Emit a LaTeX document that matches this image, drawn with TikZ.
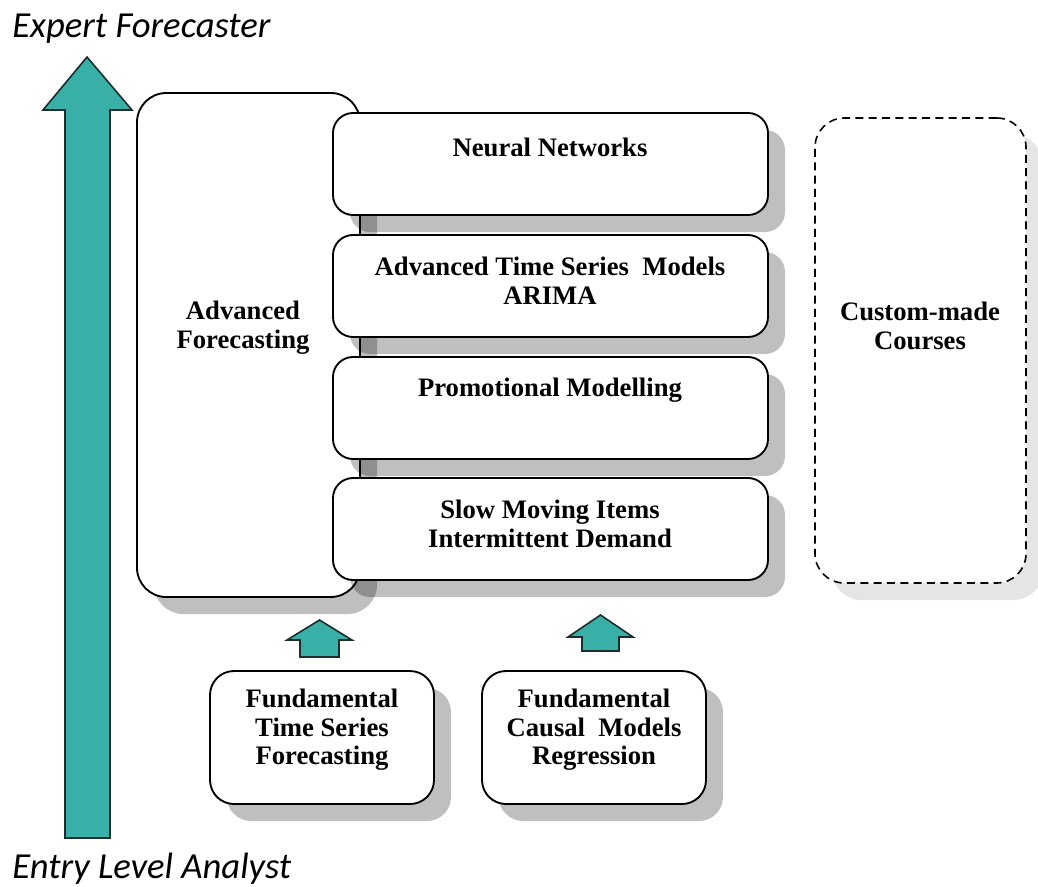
\documentclass[tikz,border=0pt]{standalone}
\usepackage{fontspec}
\setmainfont{Liberation Serif}
\newfontfamily\levelfont{Carlito}
\usetikzlibrary{shadows}
\definecolor{arrowfill}{HTML}{38B0A8}
\definecolor{arrowline}{HTML}{1A2E2C}
\newdimen\px \px=0.75pt
\tikzset{
  box/.style={draw=black, line width=1.4pt, fill=white, rounded corners=15pt, inner sep=0pt,
    drop shadow={shadow xshift=12.75pt, shadow yshift=-12.75pt, fill=black, opacity=0.25}},
  bigbox/.style={box, rounded corners=22pt},
  planbox/.style={draw=black, line width=1.2pt, dash pattern=on 6pt off 4pt, fill=white,
    rounded corners=22pt, inner sep=0pt,
    drop shadow={shadow xshift=12.75pt, shadow yshift=-12.75pt, fill=black, opacity=0.1}},
  lab/.style={font=\fontsize{20}{21.5}\selectfont\bfseries, align=center, inner sep=0pt},
  level/.style={font=\levelfont\itshape\fontsize{27.5}{32}\selectfont, inner sep=0pt},
  uparrow/.style={draw=arrowline, line width=1.2pt, fill=arrowfill, line join=miter},
}
\begin{document}
\begin{tikzpicture}[x=0.75pt, y=-0.75pt]
  \useasboundingbox (0,0) rectangle (1038,886);
  % level labels and the long arrow
  \node[level, anchor=base west] (top) at (12,37) {Expert Forecaster};
  \node[level, anchor=base west] (bottom) at (12,878) {Entry Level Analyst};
  \draw[uparrow] (65,838) -- (65,110) -- (43,110) -- (87,57) -- (132,110) -- (110,110) -- (110,838) -- cycle;
  % advanced block
  \node[bigbox, minimum width=223\px, minimum height=504\px] (advbox) at (248.5,345) {};
  \node[lab] (adv) at (243,328) {Advanced\\Forecasting};
  \node[box, minimum width=435\px, minimum height=102\px] (nnbox) at (550.5,164) {};
  \node[box, minimum width=435\px, minimum height=102\px] (atsbox) at (550.5,286) {};
  \node[box, minimum width=435\px, minimum height=102\px] (promobox) at (550.5,408) {};
  \node[box, minimum width=435\px, minimum height=102\px] (slowbox) at (550.5,529) {};
  \node[lab] (nn) at (550,147) {Neural Networks};
  \node[lab] (ats) at (550,281) {Advanced Time Series\ \ Models\\ARIMA};
  \node[lab] (promo) at (550,390) {Promotional Modelling};
  \node[lab] (slow) at (550,524) {Slow Moving Items\\Intermittent Demand};
  % custom courses
  \node[planbox, minimum width=211\px, minimum height=465\px] (custbox) at (920.5,350.5) {};
  \node[lab] (cust) at (920,326) {Custom-made\\Courses};
  % fundamentals
  \node[box, rounded corners=18pt, minimum width=224\px, minimum height=133\px] (ftsbox) at (322,737.5) {};
  \node[box, rounded corners=18pt, minimum width=224\px, minimum height=133\px] (fcmbox) at (594,737.5) {};
  \node[lab] (fts) at (322,730) {Fundamental\\Time Series\\Forecasting};
  \node[lab] (fcm) at (594,730) {Fundamental\\Causal\ \ Models\\Regression};
  \draw[uparrow] (300,657) -- (300,640) -- (287,640) -- (319.5,620) -- (352,640) -- (339,640) -- (339,657) -- cycle;
  \draw[uparrow] (582,651) -- (582,637) -- (568,637) -- (600.5,615) -- (633,637) -- (619,637) -- (619,651) -- cycle;
\end{tikzpicture}
\end{document}
